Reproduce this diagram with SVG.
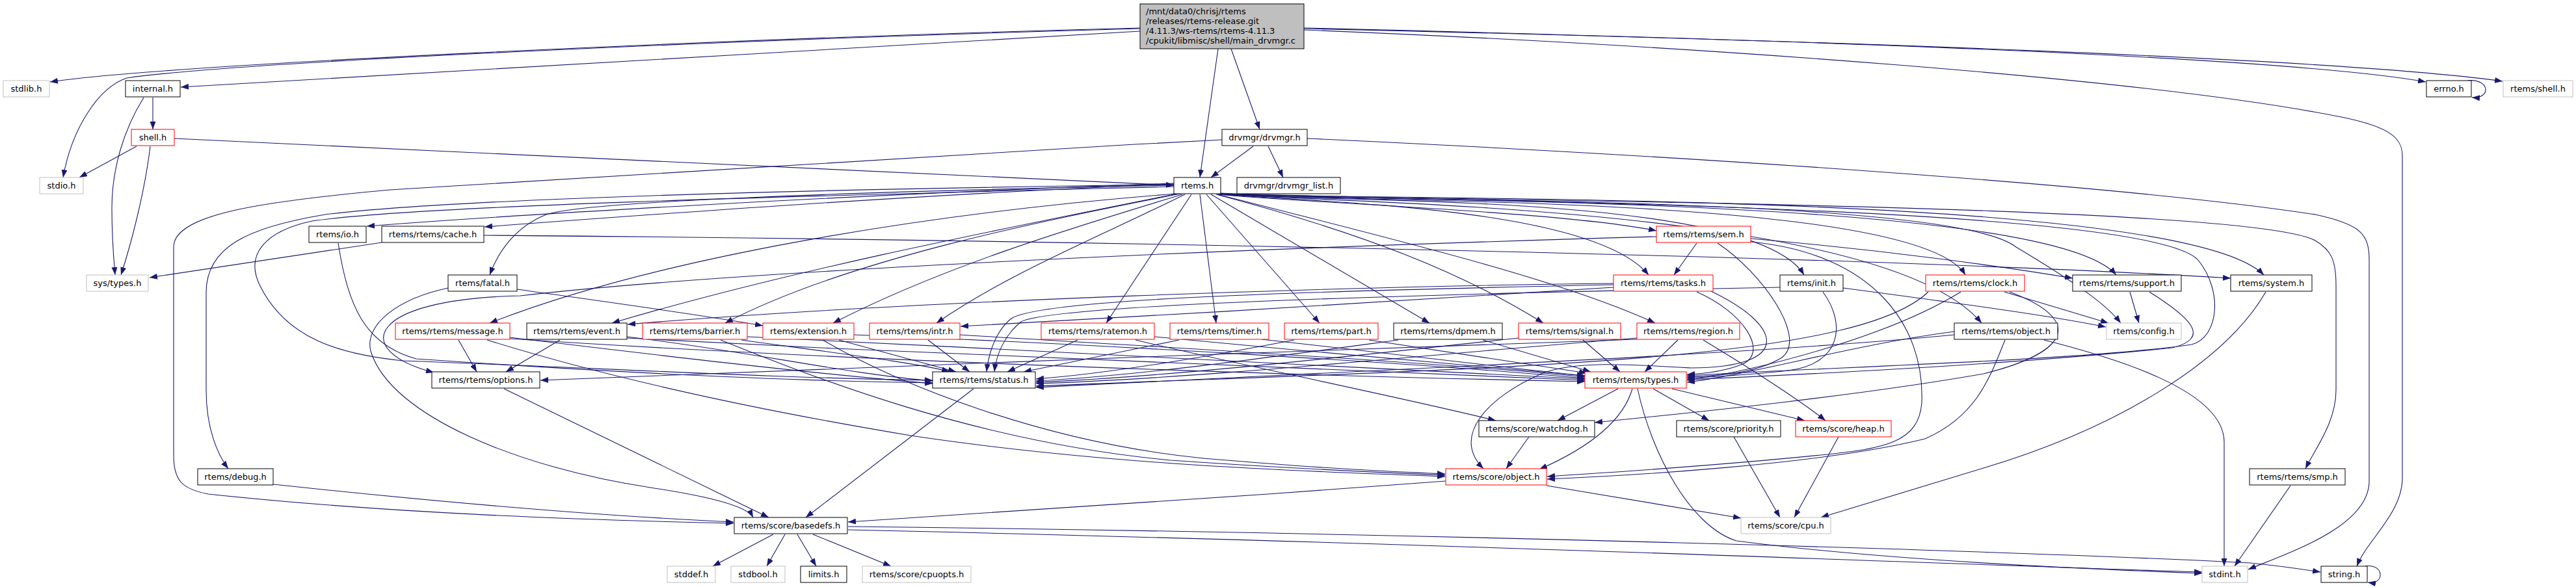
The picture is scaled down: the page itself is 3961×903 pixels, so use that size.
<svg xmlns="http://www.w3.org/2000/svg" width="3961" height="903" viewBox="0 0 3961 903">
<style>
.nd rect{fill:#fff;stroke-width:1}
.bk rect{stroke:#000}
.rd rect{stroke:#f00}
.gr rect{stroke:#bfbfbf}
.mn rect{fill:#bfbfbf;stroke:#000}
text{font-family:"DejaVu Sans","Liberation Sans",sans-serif;font-size:13px;fill:#000;text-anchor:middle}
.mn text{text-anchor:start}
#edges path{fill:none;stroke:#191970;stroke-width:1.1;marker-end:url(#ah)}
</style>
<defs>
<marker id="ah" markerWidth="12" markerHeight="9" refX="12" refY="4.5" orient="auto" markerUnits="userSpaceOnUse" viewBox="0 0 12 9"><path d="M0,0 L12,4.5 L0,9 z" fill="#191970"/></marker>
</defs>
<rect width="3961" height="903" fill="#fff"/>
<g id="edges">
<path d="M1753,43 C1100,60 250,100 77,126"/>
<path d="M1753,44 C1100,62 360,96 195,120 C150,135 110,200 97,273"/>
<path d="M1753,48 C1300,75 600,115 278,134"/>
<path d="M1873,75 L1845,273"/>
<path d="M1893,75 L1937,199"/>
<path d="M2005,43 C2700,60 3500,85 3730,126"/>
<path d="M2005,44 C2800,62 3600,90 3848,125"/>
<path d="M2005,46 C2600,70 3300,120 3600,180 C3680,196 3694,215 3694,240 L3694,735 C3694,790 3640,830 3624,871"/>
<path d="M3794,124 C3828,120 3832,152 3801,150"/>
<path d="M3637,871 C3666,866 3668,900 3641,896"/>
<path d="M235,150 L235,199"/>
<path d="M221,150 C190,200 172,260 172,320 C172,370 175,400 177,423"/>
<path d="M210,225 L122,273"/>
<path d="M231,225 C222,300 200,380 186,423"/>
<path d="M268,213 C800,240 1400,262 1805,285"/>
<path d="M1927,225 L1862,273"/>
<path d="M1950,225 L1973,273"/>
<path d="M1879,215 C1400,240 900,270 600,292 C400,310 267,330 267,380 L267,700 C267,740 280,752 320,760 C600,790 900,800 1128,805"/>
<path d="M2010,213 C2700,245 3300,290 3560,330 C3630,345 3643,360 3643,400 L3643,740 C3643,810 3520,850 3457,876"/>
<path d="M1805,282 C1300,300 800,330 564,348"/>
<path d="M1805,283 C1400,300 1000,330 745,349"/>
<path d="M1805,285 C1300,295 900,310 840,330 C790,350 765,390 753,423"/>
<path d="M1805,284 C1300,290 700,305 500,330 C380,350 317,380 317,450 L317,600 C317,660 335,700 351,721"/>
<path d="M1808,298 C1400,330 1000,400 753,497"/>
<path d="M1810,298 C1500,360 1200,420 941,497"/>
<path d="M1815,298 C1600,340 1300,400 1115,497"/>
<path d="M1818,299 C1650,350 1450,410 1281,497"/>
<path d="M1822,299 C1700,360 1550,420 1440,497"/>
<path d="M1832,299 L1701,497"/>
<path d="M1845,299 L1870,497"/>
<path d="M1855,299 L2029,497"/>
<path d="M1862,299 L2198,497"/>
<path d="M1870,299 C2100,360 2250,420 2373,497"/>
<path d="M1872,299 C2150,370 2400,430 2545,497"/>
<path d="M1873,299 C2000,312 2400,325 2547,355"/>
<path d="M1874,299 C2050,312 2450,320 2535,423"/>
<path d="M1875,299 C2100,312 2700,300 2774,423"/>
<path d="M1876,299 C2100,312 2950,300 3022,423"/>
<path d="M1876,299 C2100,313 2900,320 3047,497"/>
<path d="M1877,298 C2100,311 3150,300 3254,423"/>
<path d="M1877,298 C2100,310 3350,290 3481,423"/>
<path d="M1877,298 C2100,311 3000,300 3100,380 C3200,440 3240,470 3261,497"/>
<path d="M1877,298 C2100,310 3300,310 3380,400 C3420,450 3410,520 3370,530 C3200,555 2800,565 2594,578"/>
<path d="M1877,297 C2100,309 3450,310 3560,370 C3585,385 3592,400 3592,440 L3592,600 C3592,650 3560,690 3545,721"/>
<path d="M1805,287 C1300,300 650,315 480,340 C410,355 375,390 400,440 C440,520 520,545 620,555 C900,565 1200,582 1434,585"/>
<path d="M520,374 C535,470 560,530 640,552 C900,570 1200,586 1434,589"/>
<path d="M587,373 L230,427"/>
<path d="M744,362 C1500,368 2800,390 3430,428"/>
<path d="M689,443 C610,460 560,500 570,540 C600,640 800,720 1000,750 C1100,765 1150,780 1158,796"/>
<path d="M795,445 C900,460 1050,480 1173,501"/>
<path d="M705,523 L733,572"/>
<path d="M784,519 C1000,545 1250,575 1434,590"/>
<path d="M784,521 C1300,555 2000,578 2437,587"/>
<path d="M749,523 C900,570 1100,620 1400,670 C1700,715 2000,725 2222,733"/>
<path d="M861,523 L778,572"/>
<path d="M964,518 C1150,540 1300,575 1434,586"/>
<path d="M964,520 C1500,548 2100,573 2437,585"/>
<path d="M1140,523 C1300,545 1420,560 1460,572"/>
<path d="M1149,518 C1600,540 2100,565 2437,583"/>
<path d="M1108,523 C1250,580 1500,680 1800,708 C2000,722 2150,728 2222,731"/>
<path d="M1290,523 L1470,572"/>
<path d="M1313,515 C1700,530 2200,560 2437,582"/>
<path d="M1265,523 C1380,590 1600,680 1850,705 C2050,722 2150,726 2222,729"/>
<path d="M1427,523 L1491,572"/>
<path d="M1476,515 C1800,535 2250,560 2437,580"/>
<path d="M1657,523 L1549,572"/>
<path d="M1775,518 C2000,540 2300,565 2437,578"/>
<path d="M1746,523 C1900,560 2150,610 2300,647"/>
<path d="M1813,523 L1574,572"/>
<path d="M1940,522 C2150,545 2350,570 2437,578"/>
<path d="M1990,523 C1850,550 1700,575 1593,583"/>
<path d="M2105,523 L2440,574"/>
<path d="M2150,523 C1950,550 1750,578 1593,586"/>
<path d="M2280,523 L2446,572"/>
<path d="M2336,520 C2100,545 1800,580 1593,588"/>
<path d="M2434,523 L2491,572"/>
<path d="M2517,520 C2200,545 1850,582 1593,590"/>
<path d="M2580,523 L2529,572"/>
<path d="M2517,522 C2000,540 1300,565 831,585"/>
<path d="M2619,523 C2680,560 2760,610 2807,647"/>
<path d="M2609,374 L2574,423"/>
<path d="M2641,374 C2710,420 2780,520 2740,550 C2700,575 2640,578 2594,580"/>
<path d="M2547,364 C1800,385 1100,420 800,455 C560,460 540,540 667,573"/>
<path d="M2692,367 C2900,385 3080,410 3187,428"/>
<path d="M2692,372 C2880,390 2960,500 2955,620 C2950,680 2900,690 2800,700 C2600,720 2450,728 2379,733"/>
<path d="M2481,436 C2100,440 1400,462 965,499"/>
<path d="M2609,449 C2680,480 2720,540 2680,560 C2650,572 2620,575 2594,576"/>
<path d="M2481,442 C2200,460 1800,485 1477,502"/>
<path d="M2631,448 C2740,500 2760,565 2600,566 C2500,560 2420,555 2370,575 C2290,610 2230,670 2281,721"/>
<path d="M2481,438 C2000,448 1600,460 1555,490 C1530,510 1520,545 1517,572"/>
<path d="M2737,442 C2200,452 1620,468 1570,495 C1545,515 1532,545 1529,572"/>
<path d="M2803,449 C2840,500 2830,560 2750,570 C2680,578 2620,580 2594,582"/>
<path d="M2834,443 C3000,465 3150,485 3238,503"/>
<path d="M2965,449 C2850,560 2300,565 1593,594"/>
<path d="M3015,449 C2900,520 2700,570 2594,585"/>
<path d="M3082,449 L3242,497"/>
<path d="M3090,449 C3200,490 3190,540 3050,575 C2850,610 2600,635 2452,650"/>
<path d="M3005,515 C2700,545 2100,570 1593,596"/>
<path d="M3005,510 C2850,530 2700,575 2594,588"/>
<path d="M3083,523 C3060,580 3040,640 2960,675 C2800,715 2500,732 2379,737"/>
<path d="M3143,523 C3250,550 3420,600 3420,680 L3420,871"/>
<path d="M3275,449 L3289,497"/>
<path d="M3305,449 C3370,490 3400,520 3340,535 C3100,560 2800,575 2594,584"/>
<path d="M3484,449 C3420,560 3250,660 3050,720 C2950,750 2850,780 2800,796"/>
<path d="M3522,747 L3436,871"/>
<path d="M775,598 L1182,796"/>
<path d="M1497,598 L1239,796"/>
<path d="M2488,598 L2395,647"/>
<path d="M2510,598 C2495,650 2440,690 2367,722"/>
<path d="M2542,598 L2628,647"/>
<path d="M2571,598 L2775,647"/>
<path d="M2518,598 C2540,700 2600,810 2670,832 C2900,862 3200,875 3386,882"/>
<path d="M2351,672 L2316,721"/>
<path d="M2666,672 L2737,796"/>
<path d="M2827,672 L2759,796"/>
<path d="M2223,740 C1900,765 1500,790 1304,803"/>
<path d="M2378,747 L2677,797"/>
<path d="M1189,822 L1096,871"/>
<path d="M1207,822 L1179,871"/>
<path d="M1226,822 L1255,871"/>
<path d="M1250,822 L1370,871"/>
<path d="M1304,810 C2200,820 3100,848 3460,866 C3500,870 3530,874 3568,880"/>
<path d="M1304,815 C2200,835 3000,868 3386,880"/>
<path d="M420,745 C700,775 950,795 1128,803"/>
</g>
<g id="n-main" class="nd mn"><rect x="1753" y="6" width="252" height="69"/><text x="1762" y="22">/mnt/data0/chrisj/rtems</text><text x="1762" y="37">/releases/rtems-release.git</text><text x="1762" y="52">/4.11.3/ws-rtems/rtems-4.11.3</text><text x="1762" y="67">/cpukit/libmisc/shell/main_drvmgr.c</text></g>
<g id="n-stdlib" class="nd gr"><rect x="5" y="124" width="71" height="25"/><text x="40.5" y="141">stdlib.h</text></g>
<g id="n-internal" class="nd bk"><rect x="193" y="124" width="84" height="25"/><text x="235" y="141">internal.h</text></g>
<g id="n-errno" class="nd bk"><rect x="3731" y="124" width="69" height="25"/><text x="3765.5" y="141">errno.h</text></g>
<g id="n-rtems-shell" class="nd gr"><rect x="3849" y="124" width="107" height="25"/><text x="3902.5" y="141">rtems/shell.h</text></g>
<g id="n-shell" class="nd rd"><rect x="202" y="199" width="66" height="25"/><text x="235" y="216">shell.h</text></g>
<g id="n-drvmgr" class="nd bk"><rect x="1879" y="199" width="131" height="25"/><text x="1944.5" y="216">drvmgr/drvmgr.h</text></g>
<g id="n-stdio" class="nd gr"><rect x="61" y="273" width="67" height="25"/><text x="94.5" y="290">stdio.h</text></g>
<g id="n-rtems" class="nd bk"><rect x="1805" y="273" width="72" height="25"/><text x="1841" y="290">rtems.h</text></g>
<g id="n-drvmgr-list" class="nd bk"><rect x="1902" y="273" width="159" height="25"/><text x="1981.5" y="290">drvmgr/drvmgr_list.h</text></g>
<g id="n-io" class="nd bk"><rect x="475" y="348" width="88" height="25"/><text x="519" y="365">rtems/io.h</text></g>
<g id="n-cache" class="nd bk"><rect x="587" y="348" width="157" height="25"/><text x="665.5" y="365">rtems/rtems/cache.h</text></g>
<g id="n-sem" class="nd rd"><rect x="2547" y="348" width="145" height="25"/><text x="2619.5" y="365">rtems/rtems/sem.h</text></g>
<g id="n-systypes" class="nd gr"><rect x="133" y="423" width="95" height="25"/><text x="180.5" y="440">sys/types.h</text></g>
<g id="n-fatal" class="nd bk"><rect x="689" y="423" width="106" height="25"/><text x="742" y="440">rtems/fatal.h</text></g>
<g id="n-tasks" class="nd rd"><rect x="2481" y="423" width="153" height="25"/><text x="2557.5" y="440">rtems/rtems/tasks.h</text></g>
<g id="n-init" class="nd bk"><rect x="2737" y="423" width="97" height="25"/><text x="2785.5" y="440">rtems/init.h</text></g>
<g id="n-clock" class="nd rd"><rect x="2961" y="423" width="152" height="25"/><text x="3037" y="440">rtems/rtems/clock.h</text></g>
<g id="n-support" class="nd bk"><rect x="3187" y="423" width="167" height="25"/><text x="3270.5" y="440">rtems/rtems/support.h</text></g>
<g id="n-system" class="nd bk"><rect x="3430" y="423" width="125" height="25"/><text x="3492.5" y="440">rtems/system.h</text></g>
<g id="n-message" class="nd rd"><rect x="608" y="497" width="176" height="25"/><text x="696" y="514">rtems/rtems/message.h</text></g>
<g id="n-event" class="nd bk"><rect x="810" y="497" width="154" height="25"/><text x="887" y="514">rtems/rtems/event.h</text></g>
<g id="n-barrier" class="nd rd"><rect x="988" y="497" width="161" height="25"/><text x="1068.5" y="514">rtems/rtems/barrier.h</text></g>
<g id="n-extension" class="nd rd"><rect x="1173" y="497" width="140" height="25"/><text x="1243" y="514">rtems/extension.h</text></g>
<g id="n-intr" class="nd rd"><rect x="1337" y="497" width="139" height="25"/><text x="1406.5" y="514">rtems/rtems/intr.h</text></g>
<g id="n-ratemon" class="nd rd"><rect x="1601" y="497" width="174" height="25"/><text x="1688" y="514">rtems/rtems/ratemon.h</text></g>
<g id="n-timer" class="nd rd"><rect x="1799" y="497" width="152" height="25"/><text x="1875" y="514">rtems/rtems/timer.h</text></g>
<g id="n-part" class="nd rd"><rect x="1975" y="497" width="144" height="25"/><text x="2047" y="514">rtems/rtems/part.h</text></g>
<g id="n-dpmem" class="nd bk"><rect x="2143" y="497" width="167" height="25"/><text x="2226.5" y="514">rtems/rtems/dpmem.h</text></g>
<g id="n-signal" class="nd rd"><rect x="2335" y="497" width="157" height="25"/><text x="2413.5" y="514">rtems/rtems/signal.h</text></g>
<g id="n-region" class="nd rd"><rect x="2517" y="497" width="158" height="25"/><text x="2596" y="514">rtems/rtems/region.h</text></g>
<g id="n-robject" class="nd bk"><rect x="3005" y="497" width="159" height="25"/><text x="3084.5" y="514">rtems/rtems/object.h</text></g>
<g id="n-config" class="nd gr"><rect x="3239" y="497" width="115" height="25"/><text x="3296.5" y="514">rtems/config.h</text></g>
<g id="n-options" class="nd bk"><rect x="664" y="572" width="166" height="25"/><text x="747" y="589">rtems/rtems/options.h</text></g>
<g id="n-status" class="nd bk"><rect x="1434" y="572" width="158" height="25"/><text x="1513" y="589">rtems/rtems/status.h</text></g>
<g id="n-types" class="nd rd"><rect x="2437" y="572" width="156" height="25"/><text x="2515" y="589">rtems/rtems/types.h</text></g>
<g id="n-watchdog" class="nd bk"><rect x="2274" y="647" width="178" height="25"/><text x="2363" y="664">rtems/score/watchdog.h</text></g>
<g id="n-priority" class="nd bk"><rect x="2578" y="647" width="160" height="25"/><text x="2658" y="664">rtems/score/priority.h</text></g>
<g id="n-heap" class="nd rd"><rect x="2761" y="647" width="147" height="25"/><text x="2834.5" y="664">rtems/score/heap.h</text></g>
<g id="n-debug" class="nd bk"><rect x="304" y="721" width="116" height="25"/><text x="362" y="738">rtems/debug.h</text></g>
<g id="n-sobject" class="nd rd"><rect x="2223" y="721" width="155" height="25"/><text x="2300.5" y="738">rtems/score/object.h</text></g>
<g id="n-smp" class="nd bk"><rect x="3459" y="721" width="147" height="25"/><text x="3532.5" y="738">rtems/rtems/smp.h</text></g>
<g id="n-basedefs" class="nd bk"><rect x="1129" y="796" width="174" height="25"/><text x="1216" y="813">rtems/score/basedefs.h</text></g>
<g id="n-cpu" class="nd gr"><rect x="2677" y="796" width="138" height="25"/><text x="2746" y="813">rtems/score/cpu.h</text></g>
<g id="n-stddef" class="nd gr"><rect x="1026" y="871" width="74" height="25"/><text x="1063" y="888">stddef.h</text></g>
<g id="n-stdbool" class="nd gr"><rect x="1124" y="871" width="83" height="25"/><text x="1165.5" y="888">stdbool.h</text></g>
<g id="n-limits" class="nd bk"><rect x="1231" y="871" width="71" height="25"/><text x="1266.5" y="888">limits.h</text></g>
<g id="n-cpuopts" class="nd gr"><rect x="1326" y="871" width="167" height="25"/><text x="1409.5" y="888">rtems/score/cpuopts.h</text></g>
<g id="n-stdint" class="nd gr"><rect x="3386" y="871" width="70" height="25"/><text x="3421" y="888">stdint.h</text></g>
<g id="n-string" class="nd bk"><rect x="3569" y="871" width="71" height="25"/><text x="3604.5" y="888">string.h</text></g>
</svg>
